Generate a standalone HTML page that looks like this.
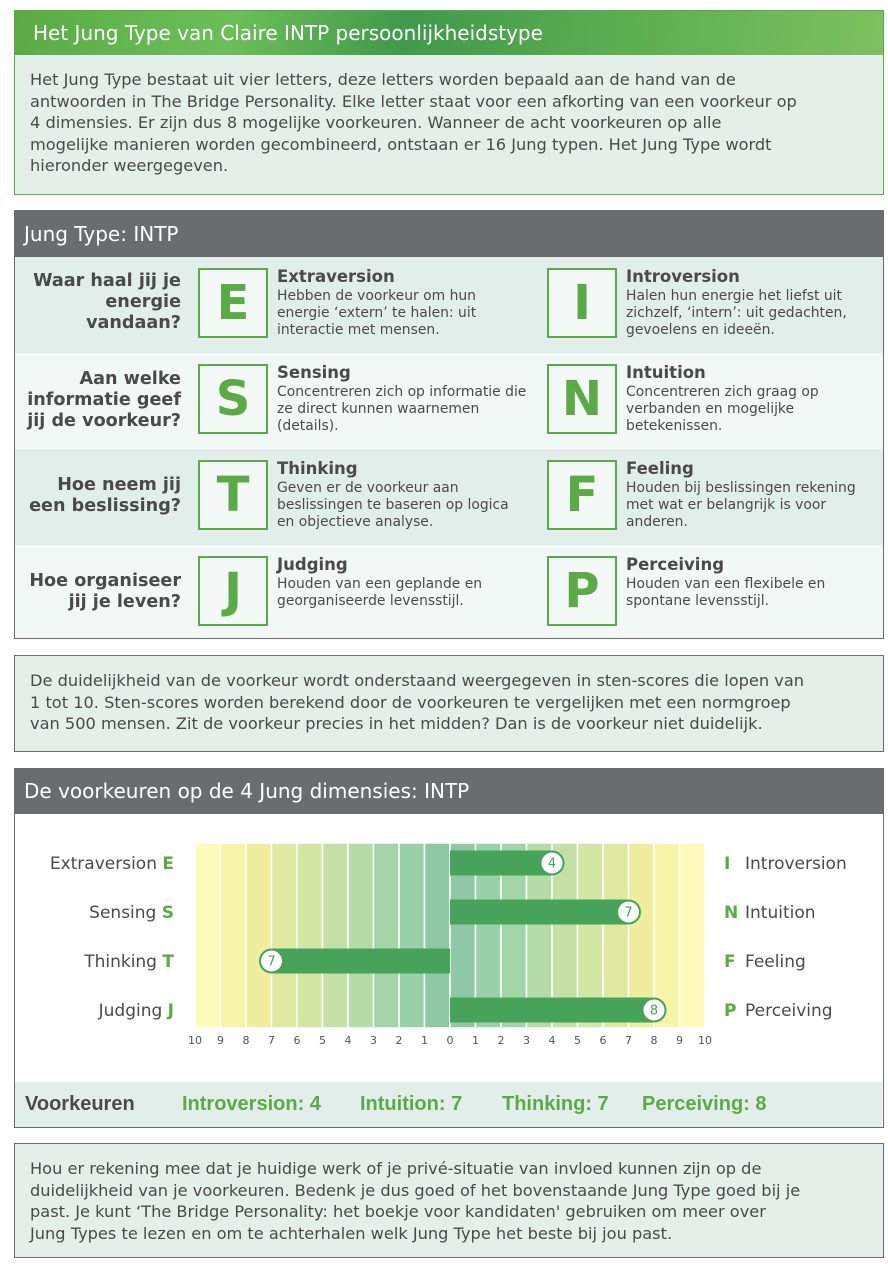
<!DOCTYPE html>
<html><head><meta charset="utf-8"><style>
*{margin:0;padding:0;box-sizing:border-box}
body{width:888px;height:1264px;background:#fff;font-family:"DejaVu Sans","Liberation Sans",sans-serif;color:#4a4a4a;position:relative;overflow:hidden}
.abs{position:absolute}
.box{position:absolute;left:14px;width:870px}
.hdr{position:absolute;left:0;top:0;width:100%;color:#fff;font-size:20px;padding-left:10px}
.p{font-size:16.2px;line-height:21.5px;white-space:nowrap;color:#4a4a4a}
.row{position:absolute;left:0;width:100%;height:96px}
.q{position:absolute;right:702px;text-align:right;font-weight:bold;font-size:17.6px;line-height:21px;white-space:nowrap;color:#4a4a4a}
.lb{position:absolute;width:70px;height:70px;border:2px solid #5aab46;background:#f4f9f7;color:#5aab46;font-weight:bold;font-size:48px;text-align:center;line-height:66px;top:11px}
.tt{position:absolute;font-weight:bold;font-size:16.5px;top:10px;white-space:nowrap;color:#4a4a4a}
.td{position:absolute;font-size:13.9px;line-height:17px;top:31px;white-space:nowrap;color:#4a4a4a}
</style></head><body>

<div class="box" style="top:10px;height:185px;background:#e4efea;border:1.5px solid #5aab46">
 <div class="hdr" style="height:44px;line-height:44px;padding-left:18px;background:linear-gradient(100deg,#5aab46 0%,#6cbf58 25%,#3f9a4a 45%,#5cae50 70%,#7dc160 100%)">Het Jung Type van Claire INTP persoonlijkheidstype</div>
 <div class="abs p" style="left:15px;top:58px">Het Jung Type bestaat uit vier letters, deze letters worden bepaald aan de hand van de<br>antwoorden in The Bridge Personality. Elke letter staat voor een afkorting van een voorkeur op<br>4 dimensies. Er zijn dus 8 mogelijke voorkeuren. Wanneer de acht voorkeuren op alle<br>mogelijke manieren worden gecombineerd, ontstaan er 16 Jung typen. Het Jung Type wordt<br>hieronder weergegeven.</div>
</div>

<div class="box" style="top:210px;height:429px;border:1.5px solid #6b6c70;background:#e2eeea">
 <div class="hdr" style="height:46px;line-height:46px;background:#6b6c70;left:-1px;width:870px">Jung Type: INTP</div>
 <div class="row" style="top:46px;background:#e2eeea">
  <div class="q" style="top:14px">Waar haal jij je<br>energie<br>vandaan?</div>
  <div class="lb" style="left:183px">E</div><div class="tt" style="left:262px">Extraversion</div>
  <div class="td" style="left:262px">Hebben de voorkeur om hun<br>energie ‘extern’ te halen: uit<br>interactie met mensen.</div>
  <div class="lb" style="left:532px">I</div><div class="tt" style="left:611px">Introversion</div>
  <div class="td" style="left:611px">Halen hun energie het liefst uit<br>zichzelf, ‘intern’: uit gedachten,<br>gevoelens en ideeën.</div>
 </div>
 <div class="row" style="top:142px;background:#f2f8f6">
  <div class="q" style="top:16px">Aan welke<br>informatie geef<br>jij de voorkeur?</div>
  <div class="lb" style="left:183px">S</div><div class="tt" style="left:262px">Sensing</div>
  <div class="td" style="left:262px">Concentreren zich op informatie die<br>ze direct kunnen waarnemen<br>(details).</div>
  <div class="lb" style="left:532px">N</div><div class="tt" style="left:611px">Intuition</div>
  <div class="td" style="left:611px">Concentreren zich graag op<br>verbanden en mogelijke<br>betekenissen.</div>
 </div>
 <div class="row" style="top:238px;background:#e2eeea">
  <div class="q" style="top:26px">Hoe neem jij<br>een beslissing?</div>
  <div class="lb" style="left:183px">T</div><div class="tt" style="left:262px">Thinking</div>
  <div class="td" style="left:262px">Geven er de voorkeur aan<br>beslissingen te baseren op logica<br>en objectieve analyse.</div>
  <div class="lb" style="left:532px">F</div><div class="tt" style="left:611px">Feeling</div>
  <div class="td" style="left:611px">Houden bij beslissingen rekening<br>met wat er belangrijk is voor<br>anderen.</div>
 </div>
 <div class="row" style="top:334px;background:#f2f8f6;height:93px">
  <div class="q" style="top:26px">Hoe organiseer<br>jij je leven?</div>
  <div class="lb" style="left:183px">J</div><div class="tt" style="left:262px">Judging</div>
  <div class="td" style="left:262px">Houden van een geplande en<br>georganiseerde levensstijl.</div>
  <div class="lb" style="left:532px">P</div><div class="tt" style="left:611px">Perceiving</div>
  <div class="td" style="left:611px">Houden van een flexibele en<br>spontane levensstijl.</div>
 </div>
</div>

<div class="box" style="top:655px;height:97px;background:#e4efea;border:1.5px solid #6b6c70">
 <div class="abs p" style="left:15px;top:14px">De duidelijkheid van de voorkeur wordt onderstaand weergegeven in sten-scores die lopen van<br>1 tot 10. Sten-scores worden berekend door de voorkeuren te vergelijken met een normgroep<br>van 500 mensen. Zit de voorkeur precies in het midden? Dan is de voorkeur niet duidelijk.</div>
</div>

<div class="box" style="top:768px;height:360px;border:1.5px solid #6b6c70;background:#fff">
 <div class="hdr" style="height:45px;line-height:45px;background:#6b6c70;left:-1px;width:870px">De voorkeuren op de 4 Jung dimensies: INTP</div>
 <div class="abs" style="left:0;top:313px;width:867px;height:45px;background:#e2eeea;font-family:'Liberation Sans',sans-serif;font-weight:bold;font-size:20px;line-height:45px;white-space:nowrap">
  <span class="abs" style="left:10px;color:#4a4a4a">Voorkeuren</span>
  <span class="abs" style="left:167px;color:#5aab46">Introversion: 4</span>
  <span class="abs" style="left:345px;color:#5aab46">Intuition: 7</span>
  <span class="abs" style="left:487px;color:#5aab46">Thinking: 7</span>
  <span class="abs" style="left:627px;color:#5aab46">Perceiving: 8</span>
 </div>
</div>

<svg class="abs" style="left:0;top:0" width="888" height="1264" id="chart"></svg>

<script>
const leftLabels=["Extraversion","Sensing","Thinking","Judging"];
const leftLetters=["E","S","T","J"];
const rightLabels=["Introversion","Intuition","Feeling","Perceiving"];
const rightLetters=["I","N","F","P"];
const scores=[4,7,-7,8];
const ticks=[10,9,8,7,6,5,4,3,2,1,0,1,2,3,4,5,6,7,8,9,10];
const bandColors=["#fffbbb","#f8f5a8","#eeee9e","#e0e9a0","#d3e6a3","#c4e0a6","#b5dba7","#a3d4a7","#99d0a8","#8fc8a4"];
const NS="http://www.w3.org/2000/svg";
const svgEl=document.getElementById('chart');
const X0=195,X1=705,PLOT_TOP=843,PLOT_BOT=1028;
function xs(v){return X0+(v+10)*(X1-X0)/20;}
function ys(i){return 863+i*49;}
function mk(t,a){const e=document.createElementNS(NS,t);for(const k in a)e.setAttribute(k,a[k]);svgEl.appendChild(e);return e;}
for(let k=0;k<20;k++){
 const v=-10+k;const d=k<10?k:19-k;
 const r=mk('rect',{x:xs(v),y:PLOT_TOP,width:xs(v+1)-xs(v),height:PLOT_BOT-PLOT_TOP,fill:bandColors[d],stroke:'#fff','stroke-width':1.5});
 
 
}
ticks.forEach((t,k)=>{
 const tx=mk('text',{x:xs(-10+k),y:1044,'text-anchor':'middle','font-size':11,fill:'#555','font-family':'DejaVu Sans,sans-serif'});
 tx.textContent=t;
 
 
});
scores.forEach((s,i)=>{
 const y=ys(i);
 const a=xs(0),b=xs(s);
 const bar=mk('rect',{x:Math.min(a,b),y:y-12.5,width:Math.abs(b-a),height:25,fill:'#48a35a'});
 
 
 const c=mk('circle',{cx:b,cy:y,r:11.5,fill:'#fff',stroke:'#48a35a','stroke-width':2});
 
 
 const st=mk('text',{x:b,y:y+4.5,'text-anchor':'middle','font-size':13,fill:'#48a35a','font-family':'DejaVu Sans,sans-serif'});
 st.textContent=Math.abs(s);
 
 
 const ll=mk('text',{x:174,y:y+6,'text-anchor':'end','font-size':17,fill:'#4a4a4a','font-family':'DejaVu Sans,sans-serif'});
 ll.innerHTML=leftLabels[i]+' <tspan font-weight="bold" fill="#5aab46">'+leftLetters[i]+'</tspan>';
 
 
 const rl=mk('text',{x:724,y:y+6,'font-size':17,fill:'#4a4a4a','font-family':'DejaVu Sans,sans-serif'});
 rl.innerHTML='<tspan font-weight="bold" fill="#5aab46">'+rightLetters[i]+'</tspan><tspan x="745">'+rightLabels[i]+'</tspan>';
 
 
});
</script>

<div class="box" style="top:1143px;height:115px;background:#e4efea;border:1.5px solid #6b6c70">
 <div class="abs p" style="left:15px;top:14px">Hou er rekening mee dat je huidige werk of je privé-situatie van invloed kunnen zijn op de<br>duidelijkheid van je voorkeuren. Bedenk je dus goed of het bovenstaande Jung Type goed bij je<br>past. Je kunt ‘The Bridge Personality: het boekje voor kandidaten' gebruiken om meer over<br>Jung Types te lezen en om te achterhalen welk Jung Type het beste bij jou past.</div>
</div>
</body></html>
